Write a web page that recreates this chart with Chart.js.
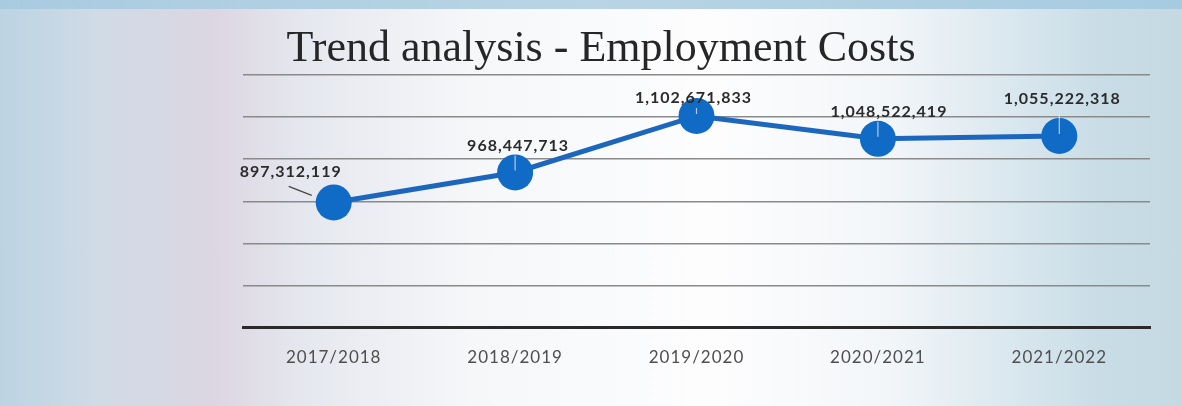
<!DOCTYPE html>
<html>
<head>
<meta charset="utf-8">
<script src="https://cdn.jsdelivr.net/npm/chart.js@4.4.1/dist/chart.umd.min.js"></script>
<style>
  html, body { margin: 0; padding: 0; }
  body {
    width: 1182px; height: 406px; overflow: hidden; position: relative;
    background: linear-gradient(90deg, #bcd3e2 0%, #cfdbe6 8%, #dcd6e2 18%, #e6e8ef 26%, #f5f7f9 40%, #fdfdfe 60%, #f3f6f9 75%, #dbe8ef 85%, #c9dde7 93%, #c5d9e3 100%);
  }
  #wrap { position: absolute; left: 0; top: 0; width: 1182px; height: 406px; }
  #band { position: absolute; left: 0; top: 0; width: 1182px; height: 9px; background: linear-gradient(90deg,#a9cbe0,#b9d4e4 50%,#a6cbe0); }
  #title {
    position: absolute; left: 20px; top: 22px; width: 1162px; text-align: center;
    font-family: "Liberation Serif", "DejaVu Serif", serif; font-size: 44px; line-height: 50px;
    color: #262626; letter-spacing: 0px;
  }
</style>
</head>
<body>
<div id="band"></div>
<div id="wrap"><canvas id="c" width="1182" height="406"></canvas></div>
<div id="title"></div>
<script>
const titleText = "Trend analysis - Employment Costs";
const categories = ["2017/2018", "2018/2019", "2019/2020", "2020/2021", "2021/2022"];
const costs = [897312119, 968447713, 1102671833, 1048522419, 1055222318];
const yMin = 600000000;
const yMax = 1200000000;
const yStep = 100000000;

document.getElementById('title').textContent = titleText;

const spacingPlugin = {
  id: 'spacing',
  beforeDraw(chart) { chart.ctx.letterSpacing = '1px'; }
};

const labelPlugin = {
  id: 'valueLabels',
  afterDatasetsDraw(chart) {
    const ctx = chart.ctx;
    const meta = chart.getDatasetMeta(0);
    const off = [[-43, -31], [3, -27], [-3, -18], [11, -27], [3, -37]];
    ctx.save();
    ctx.letterSpacing = '1px';
    meta.data.forEach((pt, i) => {
      const v = chart.data.datasets[0].data[i];
      const txt = v.toLocaleString('en-US');
      const x = pt.x + off[i][0], y = pt.y + off[i][1];
      if (i === 0) {
        ctx.strokeStyle = '#444';
        ctx.lineWidth = 1.2;
        ctx.beginPath();
        ctx.moveTo(pt.x - 45, pt.y - 16);
        ctx.lineTo(pt.x - 22, pt.y - 7);
        ctx.stroke();
      } else {
        ctx.strokeStyle = 'rgba(220,230,240,0.8)';
        ctx.lineWidth = 1.2;
        ctx.beginPath();
        ctx.moveTo(pt.x, y + 10);
        ctx.lineTo(pt.x, pt.y - 2);
        ctx.stroke();
      }
      ctx.font = 'bold 16px Lato, "Open Sans", sans-serif';
      ctx.fillStyle = '#2b2b2b';
      ctx.textAlign = 'center';
      ctx.textBaseline = 'middle';
      ctx.fillText(txt, x, y);
    });
    ctx.restore();
  }
};

new Chart(document.getElementById('c'), {
  type: 'line',
  data: {
    labels: categories,
    datasets: [{
      data: costs,
      borderColor: '#1d66bd',
      backgroundColor: '#0f6bc6',
      borderWidth: 5,
      pointRadius: 18,
      pointHoverRadius: 18,
      pointBorderWidth: 0,
      pointBackgroundColor: '#0f6bc6',
      tension: 0
    }]
  },
  options: {
    responsive: false,
    animation: false,
    events: [],
    layout: { padding: { left: 243, right: 32, top: 75, bottom: 18 } },
    plugins: {
      legend: { display: false },
      tooltip: { enabled: false },
      title: { display: false }
    },
    scales: {
      x: {
        offset: true,
        grid: { display: false, drawTicks: false },
        border: { display: true, color: '#2a2a2a', width: 3 },
        ticks: { color: '#4f4f4f', font: { family: 'Lato, "Open Sans", sans-serif', size: 17 }, padding: 20 }
      },
      y: {
        min: yMin, max: yMax,
        ticks: { display: false, stepSize: yStep },
        grid: { color: '#8a8a8a', lineWidth: 1.5, drawTicks: false },
        border: { display: false }
      }
    }
  },
  plugins: [spacingPlugin, labelPlugin]
});
</script>
</body>
</html>
